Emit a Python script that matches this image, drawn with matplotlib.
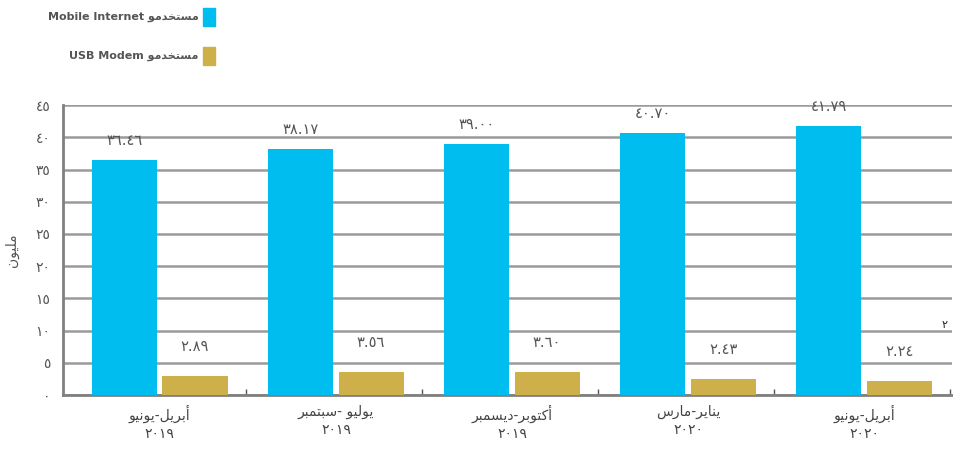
import matplotlib as mpl
import matplotlib.pyplot as plt
import numpy as np
from matplotlib.patches import Patch

mpl.use('Agg')

# data
periods = ['أبريل-يونيو', 'يوليو -سبتمبر', 'أكتوبر-ديسمبر', 'يناير-مارس', 'أبريل-يونيو']
years = ['2019', '2019', '2019', '2020', '2020']
mobile_internet = [36.46, 38.17, 39.00, 40.70, 41.79]
usb_modem = [2.89, 3.56, 3.60, 2.43, 2.24]
yticks = [0, 5, 10, 15, 20, 25, 30, 35, 40, 45]

CYAN = '#00bdf0'
GOLD = '#cdb04a'
GRID = '#9a9a9a'
TXT = '#555555'

# Arabic shaping by hand (no reshaper installed): isolated, final, initial, medial
FORMS = {
    'ا': ('\ufe8d', '\ufe8e', None, None),
    'أ': ('\ufe83', '\ufe84', None, None),
    'ب': ('\ufe8f', '\ufe90', '\ufe91', '\ufe92'),
    'ت': ('\ufe95', '\ufe96', '\ufe97', '\ufe98'),
    'خ': ('\ufea5', '\ufea6', '\ufea7', '\ufea8'),
    'د': ('\ufea9', '\ufeaa', None, None),
    'ر': ('\ufead', '\ufeae', None, None),
    'س': ('\ufeb1', '\ufeb2', '\ufeb3', '\ufeb4'),
    'ك': ('\ufed9', '\ufeda', '\ufedb', '\ufedc'),
    'ل': ('\ufedd', '\ufede', '\ufedf', '\ufee0'),
    'م': ('\ufee1', '\ufee2', '\ufee3', '\ufee4'),
    'ن': ('\ufee5', '\ufee6', '\ufee7', '\ufee8'),
    'و': ('\ufeed', '\ufeee', None, None),
    'ي': ('\ufef1', '\ufef2', '\ufef3', '\ufef4'),
}


def ar(text):
    out = []
    for i, ch in enumerate(text):
        if ch not in FORMS:
            out.append(ch)
            continue
        f = FORMS[ch]
        prev = text[i - 1] if i > 0 else ''
        nxt = text[i + 1] if i + 1 < len(text) else ''
        pj = prev in FORMS and FORMS[prev][2] is not None
        nj = nxt in FORMS and f[2] is not None
        if pj and nj:
            out.append(f[3])
        elif pj:
            out.append(f[1])
        elif nj:
            out.append(f[2])
        else:
            out.append(f[0])
    return ''.join(out)[::-1]


def ind(s):
    return s.translate(str.maketrans('0123456789', '٠١٢٣٤٥٦٧٨٩'))


plt.rcParams['font.family'] = ['DejaVu Sans']

fig = plt.figure(figsize=(9.54, 4.49), dpi=100)
ax = fig.add_axes([0.066, 0.120, 0.932, 0.646])

x = np.arange(len(periods))
w = 0.37
ax.bar(x - 0.2, mobile_internet, w, color=CYAN, zorder=3)
ax.bar(x + 0.2, usb_modem, w, color=GOLD, zorder=3)

for xi, v in zip(x, mobile_internet):
    ax.text(xi - 0.2, v + 3.0, ind(f'{v:.2f}'), ha='center', va='center',
            fontsize=10.5, color=TXT, zorder=4, clip_on=False)
for xi, v in zip(x, usb_modem):
    ax.text(xi + 0.2, v + 4.6, ind(f'{v:.2f}'), ha='center', va='center',
            fontsize=10.5, color=TXT, zorder=4)

ax.set_xlim(-0.55, 4.5)
ax.set_ylim(0, 45)
ax.set_yticks(yticks)
ax.set_yticklabels([ind(str(t)) for t in yticks], fontsize=10, color=TXT)
ax.tick_params(axis='y', length=0, pad=9)
ax.yaxis.grid(True, color=GRID, linewidth=1.8, zorder=0)

ax.set_xticks(x)
ax.set_xticklabels([ar(p) + '\n' + ind(y) for p, y in zip(periods, years)],
                   fontsize=10, color='#444444', linespacing=1.35)
ax.tick_params(axis='x', length=0, pad=7)
ax.set_xticks(x + 0.49, minor=True)
ax.tick_params(axis='x', which='minor', direction='in', length=4, width=1.0, color='#555555')

for s in ['top', 'right']:
    ax.spines[s].set_visible(False)
for s in ['left', 'bottom']:
    ax.spines[s].set_color('#808080')
    ax.spines[s].set_linewidth(2.0)

ax.set_ylabel(ar('مليون'), fontsize=10, color=TXT, labelpad=12)

handles = [Patch(color=CYAN), Patch(color=GOLD)]
labels = ['Mobile Internet ' + ar('مستخدمو'), 'USB Modem ' + ar('مستخدمو')]
fig.legend(handles, labels, loc='upper right', bbox_to_anchor=(225 / 954, 1.005),
           frameon=False, markerfirst=False, labelcolor=TXT,
           prop={'weight': 'bold', 'size': 8}, handlelength=1.1, handleheight=2.1,
           handletextpad=0.4, labelspacing=1.9)

fig.text(945 / 954, 1 - 325 / 449, ind('2'), fontsize=8, ha='center', va='center', color='#222222')

fig.savefig('out.png', dpi=100)
